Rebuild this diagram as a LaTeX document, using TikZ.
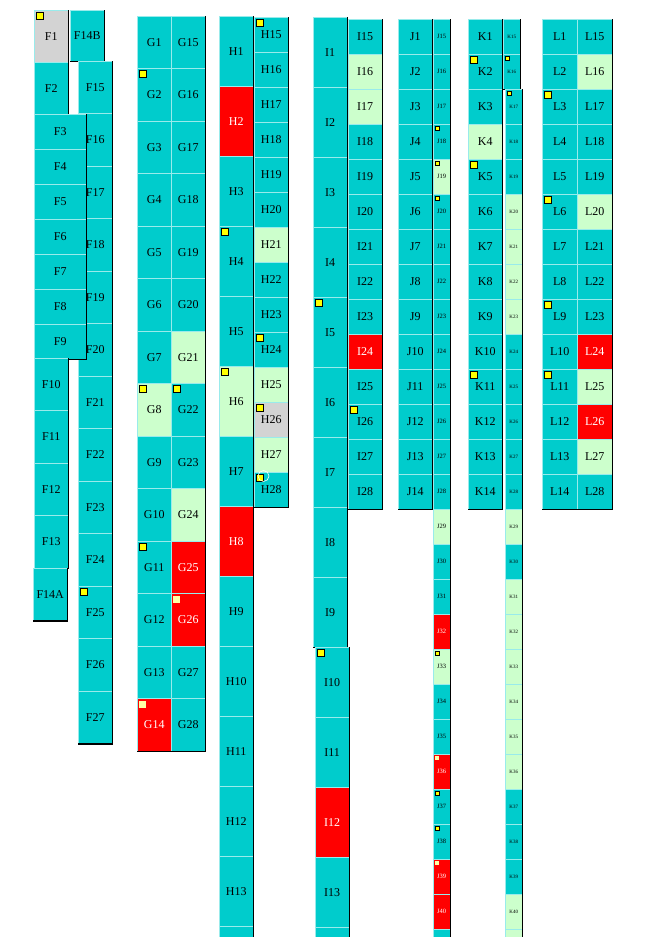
\documentclass[tikz,border=0pt]{standalone}
\usepackage{fontspec}
\setmainfont{Liberation Serif}
\usetikzlibrary{positioning}
\definecolor{bay}{RGB}{0,204,204}
\definecolor{ok}{RGB}{204,255,204}
\definecolor{bad}{RGB}{255,0,0}
\definecolor{off}{RGB}{211,211,211}
\definecolor{flag}{RGB}{255,255,0}
\tikzset{
  cell/.style={anchor=north west, inner sep=0pt, fill=bay, font=\fontsize{12}{14}\selectfont},
  cy/.style={fill=bay},
  lg/.style={fill=ok},
  rd/.style={fill=bad, text=white},
  gy/.style={fill=off},
  narrowj/.style={font=\fontsize{6.5}{7}\selectfont},
  narrowk/.style={font=\fontsize{5}{6}\selectfont},
  edge/.style={black, line width=1.5pt},
  lite/.style={white!60!bay, line width=0.8pt},
  flagged/.style={fill=flag, draw=black, line width=0.5pt},
  paleflag/.style={fill=flag!35, draw=none}
}
% one bay: name, x, y, width, height, style (label optional, name by default)
\newcommand{\slot}[7][\relax]{%
  \node[cell,#7,minimum width=#5pt,minimum height=#6pt] (#2) at ({#3},{#4}) {\ifx\relax#1#2\else#1\fi};
  \draw[lite] (#2.south west) -- (#2.north west) -- (#2.north east);
  \draw[edge] (#2.north east) -- (#2.south east) -- (#2.south west);
}
\newcommand{\flagbox}[3][7pt]{\path[#2] ([shift={(2pt,-2pt)}]#3.north west) rectangle ++(#1,-#1);}

\begin{document}
\begin{tikzpicture}[x=1pt,y=-1pt]
  \useasboundingbox (0,0) rectangle (671,937);
  \fill[white] (0,0) rectangle (671,937);
  \clip (0,0) rectangle (671,937);

  % F row
  \slot{F14B}{70}{10}{34}{51}{cy}
  \foreach \n [count=\i from 0] in {15,...,27}
    {\slot{F\n}{78}{61+52.5*\i}{34}{52.5}{cy}}
  \slot{F1}{34}{10}{34}{52}{gy}
  \slot{F2}{34}{62}{34}{52}{cy}
  \foreach \n [count=\i from 0] in {3,...,9}
    {\slot{F\n}{34}{114+35*\i}{52}{35}{cy}}
  \foreach \n [count=\i from 0] in {10,...,13}
    {\slot{F\n}{34}{358+52.5*\i}{34}{52.5}{cy}}
  \slot{F14A}{33}{568}{34}{52.5}{cy}

  % G row
  \foreach \n/\s [count=\i from 0] in {1/cy,2/cy,3/cy,4/cy,5/cy,6/cy,7/cy,8/lg,9/cy,10/cy,11/cy,12/cy,13/cy,14/rd}
    {\slot{G\n}{137}{16+52.5*\i}{34}{52.5}{\s}}
  \foreach \n/\s [count=\i from 0] in {15/cy,16/cy,17/cy,18/cy,19/cy,20/cy,21/lg,22/cy,23/cy,24/lg,25/rd,26/rd,27/cy,28/cy}
    {\slot{G\n}{171}{16+52.5*\i}{34}{52.5}{\s}}

  % H row
  \foreach \n/\s [count=\i from 0] in {1/cy,2/rd,3/cy,4/cy,5/cy,6/lg,7/cy,8/rd,9/cy,10/cy,11/cy,12/cy,13/cy}
    {\slot{H\n}{219}{16+70*\i}{34}{70}{\s}}
  \slot[]{H14}{219}{926}{34}{70}{cy}
  \foreach \n/\s [count=\i from 0] in {15/cy,16/cy,17/cy,18/cy,19/cy,20/cy,21/lg,22/cy,23/cy,24/cy,25/lg,26/gy,27/lg,28/cy}
    {\slot{H\n}{254}{17+35*\i}{34}{35}{\s}}

  % I row
  \foreach \n/\s [count=\i from 0] in {1/cy,2/cy,3/cy,4/cy,5/cy,6/cy,7/cy,8/cy,9/cy,10/cy,11/cy,12/rd,13/cy}
    {\slot{I\n}{313+2*(\n>9)}{17+70*\i}{34}{70}{\s}}
  \slot[]{I14}{315}{927}{34}{70}{cy}
  \foreach \n/\s [count=\i from 0] in {15/cy,16/lg,17/lg,18/cy,19/cy,20/cy,21/cy,22/cy,23/cy,24/rd,25/cy,26/cy,27/cy,28/cy}
    {\slot{I\n}{348}{19+35*\i}{34}{35}{\s}}

  % J row
  \foreach \n [count=\i from 0] in {1,...,14}
    {\slot{J\n}{398}{19+35*\i}{34}{35}{cy}}
  \foreach \n/\s [count=\i from 0] in {15/cy,16/cy,17/cy,18/cy,19/lg,20/cy,21/cy,22/cy,23/cy,24/cy,25/cy,26/cy,27/cy,28/cy,
      29/lg,30/cy,31/cy,32/rd,33/lg,34/cy,35/cy,36/rd,37/cy,38/cy,39/rd,40/rd}
    {\slot{J\n}{433}{19+35*\i}{17}{35}{\s,narrowj}}
  \slot[]{J41}{433}{929}{17}{35}{cy}

  % K row
  \foreach \n/\s [count=\i from 0] in {1/cy,2/cy,3/cy,4/lg,5/cy,6/cy,7/cy,8/cy,9/cy,10/cy,11/cy,12/cy,13/cy,14/cy}
    {\slot{K\n}{468}{19+35*\i}{34}{35}{\s}}
  \foreach \n/\s [count=\i from 0] in {15/cy,16/cy,17/cy,18/cy,19/cy,20/lg,21/lg,22/lg,23/lg,24/cy,25/cy,26/cy,27/cy,28/cy,
      29/lg,30/cy,31/lg,32/lg,33/lg,34/lg,35/lg,36/lg,37/cy,38/cy,39/cy,40/lg}
    {\slot{K\n}{503+2*(\n>16)}{19+35*\i}{17}{35}{\s,narrowk}}
  \slot[]{K41}{505}{929}{17}{35}{lg}

  % L row
  \foreach \n [count=\i from 0] in {1,...,14}
    {\slot{L\n}{542}{19+35*\i}{35}{35}{cy}}
  \foreach \n/\s [count=\i from 0] in {15/cy,16/lg,17/cy,18/cy,19/cy,20/lg,21/cy,22/cy,23/cy,24/rd,25/lg,26/rd,27/lg,28/cy}
    {\slot{L\n}{577}{19+35*\i}{35}{35}{\s}}

  % flags
  \foreach \f in {F1,F25,G2,G8,G11,G22,H4,H6,H15,H24,H26,H28,I5,I10,I26,K2,K5,K11,L3,L6,L9,L11}
    {\flagbox{flagged}{\f}}
  \foreach \f in {G14,G26}
    {\flagbox{paleflag}{\f}}
  \foreach \f in {J18,J19,J20,J33,J37,J38,K16,K17}
    {\flagbox[4pt]{flagged}{\f}}
  \foreach \f in {J36,J39}
    {\flagbox[4pt]{paleflag}{\f}}

  \draw[white, line width=0.6pt] (263.5,476) circle (5.5pt);
\end{tikzpicture}
\end{document}
